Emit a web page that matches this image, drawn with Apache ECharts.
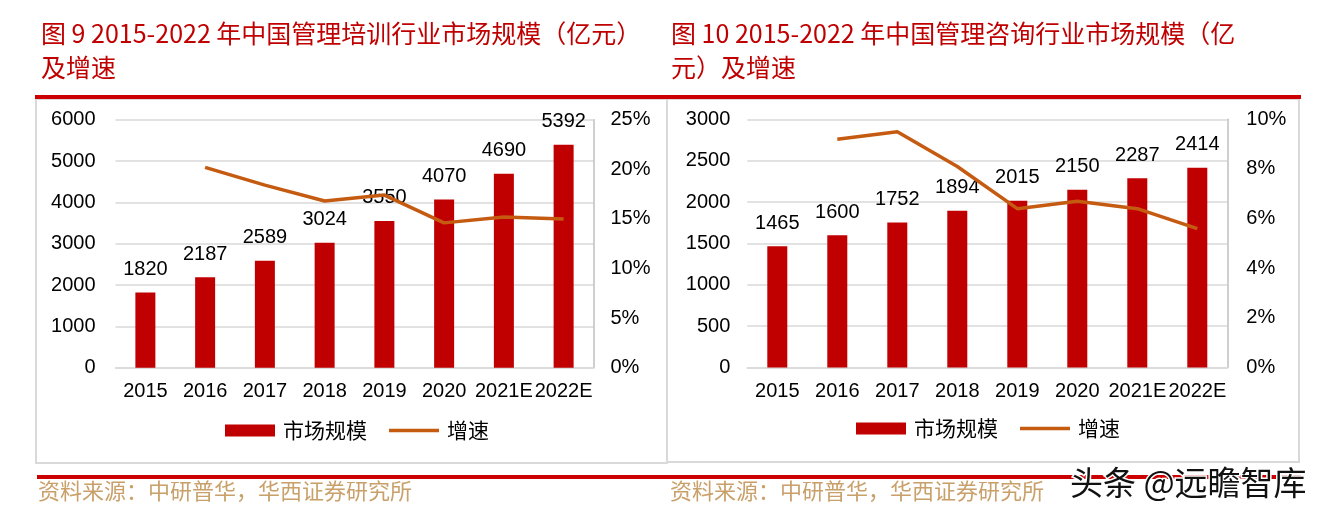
<!DOCTYPE html>
<html>
<head>
<meta charset="utf-8">
<script src="https://cdn.jsdelivr.net/npm/echarts@6/dist/echarts.min.js"></script>
<style>
html,body{margin:0;padding:0;background:#fff;}
#main{width:1330px;height:515px;}
</style>
</head>
<body>
<div id="main"></div>
<script>
// ---- data ----
const categories = ['2015', '2016', '2017', '2018', '2019', '2020', '2021E', '2022E'];
const trainingSize = [1820, 2187, 2589, 3024, 3550, 4070, 4690, 5392];
const trainingGrowth = [null, 20.2, 18.4, 16.8, 17.4, 14.6, 15.2, 15.0];
const consultingSize = [1465, 1600, 1752, 1894, 2015, 2150, 2287, 2414];
const consultingGrowth = [null, 9.2, 9.5, 8.1, 6.4, 6.7, 6.4, 5.6];
const trainingTitle = '图 9 2015-2022 年中国管理培训行业市场规模（亿元）\n及增速';
const consultingTitle = '图 10 2015-2022 年中国管理咨询行业市场规模（亿\n元）及增速';
const legendNames = ['市场规模', '增速'];
const sourceText = '资料来源：中研普华，华西证券研究所';
const watermarkText = '头条 @远瞻智库';
// axis ranges
const trainingAxis = { max: 6000, interval: 1000 };
const trainingPctAxis = { max: 25, interval: 5 };
const consultingAxis = { max: 3000, interval: 500 };
const consultingPctAxis = { max: 10, interval: 2 };

// ---- style ----
const RED = '#c00000';
const ORANGE = '#c55a11';
const GRID_GRAY = '#d9d9d9';
const NUM_FONT = 'Liberation Sans, Arial, sans-serif';
const CJK_FONT = 'Noto Sans CJK SC, sans-serif';

const chart = echarts.init(document.getElementById('main'), null, { renderer: 'canvas' });

function xAxisFor(gi) {
  return {
    type: 'category', gridIndex: gi, data: categories,
    axisLine: { show: true, lineStyle: { color: GRID_GRAY, width: 1.5 } },
    axisTick: { show: false },
    axisLabel: { margin: 14, fontSize: 20, color: '#000', fontFamily: NUM_FONT, interval: 0 }
  };
}
function leftAxis(gi, ax, margin) {
  return {
    type: 'value', gridIndex: gi, position: 'left', min: 0, max: ax.max, interval: ax.interval,
    axisLine: { show: false }, axisTick: { show: false },
    splitLine: { show: true, lineStyle: { color: GRID_GRAY, width: 1.5 } },
    axisLabel: { margin: margin, fontSize: 20, color: '#000', fontFamily: NUM_FONT, formatter: function (v) { return String(v); } }
  };
}
function rightAxis(gi, ax, margin) {
  return {
    type: 'value', gridIndex: gi, position: 'right', min: 0, max: ax.max, interval: ax.interval,
    axisLine: { show: true, lineStyle: { color: '#bfbfbf', width: 1.5 } },
    axisTick: { show: false },
    splitLine: { show: false },
    axisLabel: { margin: margin, fontSize: 20, color: '#000', fontFamily: NUM_FONT, formatter: function (v) { return v + '%'; } }
  };
}
function barSeries(xi, yi, data) {
  return {
    name: legendNames[0], type: 'bar', xAxisIndex: xi, yAxisIndex: yi, data: data,
    barWidth: 20, itemStyle: { color: RED },
    label: { show: true, position: 'top', distance: 13, fontSize: 20, color: '#000', fontFamily: NUM_FONT },
    z: 2
  };
}
function lineSeries(xi, yi, data) {
  return {
    name: legendNames[1], type: 'line', xAxisIndex: xi, yAxisIndex: yi, data: data,
    symbol: 'none', showSymbol: false, connectNulls: false,
    lineStyle: { color: ORANGE, width: 3.5 }, itemStyle: { color: ORANGE },
    z: 3
  };
}
function legendAt(left, top) {
  return {
    left: left, top: top, padding: 0, orient: 'horizontal',
    itemWidth: 50, itemHeight: 12, itemGap: 22, selectedMode: false,
    data: [
      { name: legendNames[0], icon: 'rect', itemStyle: { color: RED } },
      { name: legendNames[1], icon: 'path://M0,0H50V3.5H0Z', itemStyle: { color: ORANGE, borderWidth: 0 } }
    ],
    textStyle: { fontSize: 21, color: '#000', fontFamily: CJK_FONT, padding: [0, 0, 0, 3] }
  };
}
function titleAt(text, left) {
  return {
    text: text, left: left, top: 16, padding: 0,
    textStyle: { fontSize: 25, lineHeight: 34, color: RED, fontWeight: 'normal', fontFamily: CJK_FONT }
  };
}

const option = {
  backgroundColor: '#fff',
  animation: false,
  title: [titleAt(trainingTitle, 41), titleAt(consultingTitle, 671)],
  grid: [
    { left: 115.5, top: 119.7, width: 478, height: 248 },
    { left: 747.3, top: 119.3, width: 480, height: 248.3 }
  ],
  legend: [legendAt(225, 420), legendAt(856, 418)],
  xAxis: [xAxisFor(0), xAxisFor(1)],
  yAxis: [
    leftAxis(0, trainingAxis, 20),
    rightAxis(0, trainingPctAxis, 17),
    leftAxis(1, consultingAxis, 17),
    rightAxis(1, consultingPctAxis, 19)
  ],
  series: [
    barSeries(0, 0, trainingSize),
    lineSeries(0, 1, trainingGrowth),
    barSeries(1, 2, consultingSize),
    lineSeries(1, 3, consultingGrowth)
  ],
  graphic: [
    { type: 'rect', shape: { x: 36, y: 99, width: 631, height: 364 }, style: { fill: 'none', stroke: GRID_GRAY, lineWidth: 2 }, silent: true, z: 0 },
    { type: 'rect', shape: { x: 667, y: 99, width: 632, height: 363 }, style: { fill: 'none', stroke: GRID_GRAY, lineWidth: 2 }, silent: true, z: 0 },
    { type: 'rect', shape: { x: 35, y: 95, width: 1266, height: 4 }, style: { fill: '#cc0000' }, silent: true, z: 1 },
    { type: 'rect', shape: { x: 37, y: 475, width: 1264, height: 4 }, style: { fill: '#cc0000' }, silent: true, z: 1 },
    { type: 'text', x: 38, y: 491, style: { text: sourceText, fill: '#c9a06a', font: '22px ' + CJK_FONT, textVerticalAlign: 'middle' }, silent: true, z: 1 },
    { type: 'text', x: 670, y: 491, style: { text: sourceText, fill: '#c9a06a', font: '22px ' + CJK_FONT, textVerticalAlign: 'middle' }, silent: true, z: 1 },
    { type: 'text', x: 1070, y: 482, style: { text: watermarkText, fill: '#111', stroke: '#fff', lineWidth: 3, font: '33px ' + CJK_FONT, textVerticalAlign: 'middle' }, silent: true, z: 100 }
  ]
};
chart.setOption(option);
</script>
</body>
</html>
